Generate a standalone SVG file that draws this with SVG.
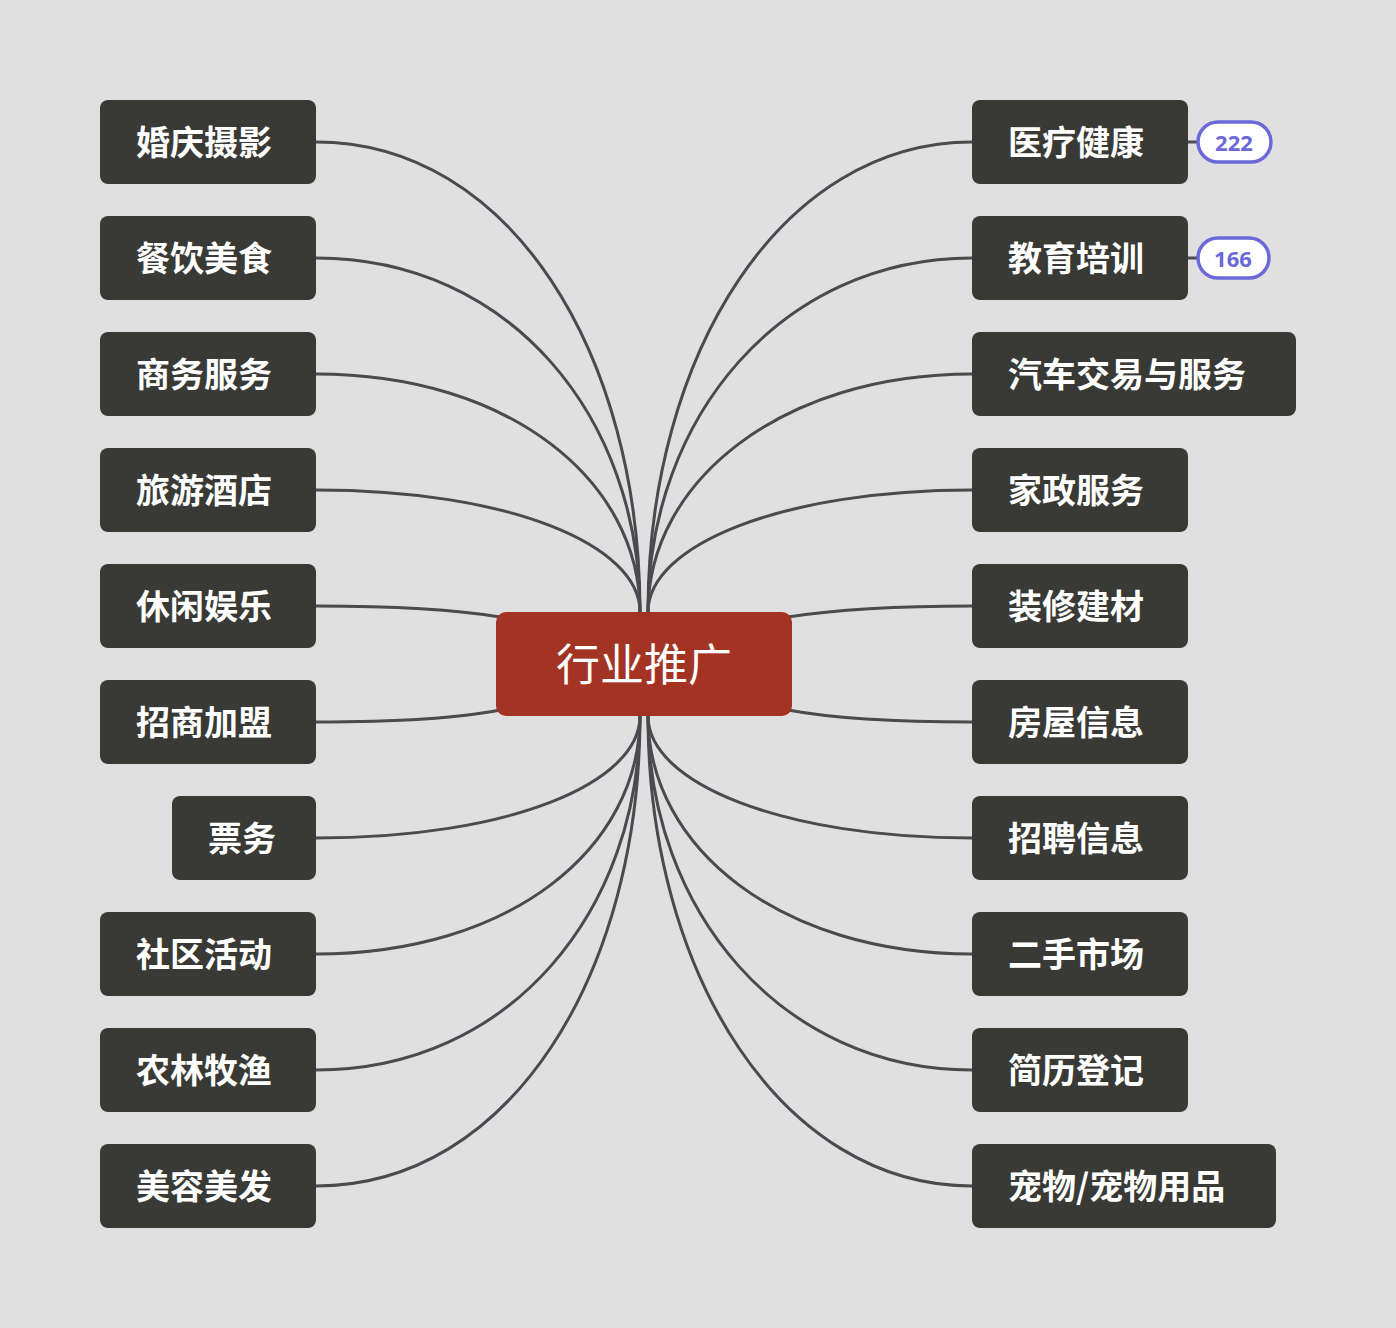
<svg xmlns="http://www.w3.org/2000/svg" width="1396" height="1328" viewBox="0 0 1396 1328">
<style>
.n{fill:#393a35}
.t{fill:#fff;font-family:"Noto Sans CJK SC","Liberation Sans",sans-serif;font-weight:bold;font-size:34px;dominant-baseline:central}
.c{fill:none;stroke:#4a4a4f;stroke-width:3}
.b{fill:#fff;stroke:#6b68d8;stroke-width:3.5}
.bt{fill:#6b68d8;font-family:"Noto Sans","Liberation Sans",sans-serif;font-weight:bold;font-size:22px;text-anchor:middle;dominant-baseline:central}
</style>
<rect width="1396" height="1328" fill="#e0e0e0"/>
<g id="connectors">
<path class="c" d="M316,142 C510,142 640,353 640,612"/>
<path class="c" d="M316,258 C510,258 640,417 640,612"/>
<path class="c" d="M316,374 C510,374 640,481 640,612"/>
<path class="c" d="M316,490 C510,490 640,545 640,612"/>
<path class="c" d="M316,606 C420,606 470,612 500,617"/>
<path class="c" d="M316,722 C420,722 470,716 500,710"/>
<path class="c" d="M316,838 C510,838 640,783 640,716"/>
<path class="c" d="M316,954 C510,954 640,849 640,716"/>
<path class="c" d="M316,1070 C510,1070 640,911 640,716"/>
<path class="c" d="M316,1186 C510,1186 640,974 640,716"/>
<path class="c" d="M972,142 C782,142 648,353 648,612"/>
<path class="c" d="M972,258 C782,258 648,417 648,612"/>
<path class="c" d="M972,374 C782,374 648,481 648,612"/>
<path class="c" d="M972,490 C782,490 648,545 648,612"/>
<path class="c" d="M972,606 C870,606 820,612 788,617"/>
<path class="c" d="M972,722 C870,722 820,716 788,710"/>
<path class="c" d="M972,838 C782,838 648,783 648,716"/>
<path class="c" d="M972,954 C782,954 648,849 648,716"/>
<path class="c" d="M972,1070 C782,1070 648,911 648,716"/>
<path class="c" d="M972,1186 C782,1186 648,974 648,716"/>
<path class="c" d="M1188,142 H1198 M1188,258 H1198"/>
</g>
<g id="center"><rect x="496" y="612" width="296" height="104" rx="10" fill="#a33424"/><text x="644" y="662" fill="#fff" font-family="Noto Sans CJK SC,sans-serif" font-size="44" text-anchor="middle" dominant-baseline="central">行业推广</text></g>
<g id="l1"><rect class="n" x="100" y="100" width="216" height="84" rx="8"/><text class="t" x="136" y="140">婚庆摄影</text></g>
<g id="l2"><rect class="n" x="100" y="216" width="216" height="84" rx="8"/><text class="t" x="136" y="256">餐饮美食</text></g>
<g id="l3"><rect class="n" x="100" y="332" width="216" height="84" rx="8"/><text class="t" x="136" y="372">商务服务</text></g>
<g id="l4"><rect class="n" x="100" y="448" width="216" height="84" rx="8"/><text class="t" x="136" y="488">旅游酒店</text></g>
<g id="l5"><rect class="n" x="100" y="564" width="216" height="84" rx="8"/><text class="t" x="136" y="604">休闲娱乐</text></g>
<g id="l6"><rect class="n" x="100" y="680" width="216" height="84" rx="8"/><text class="t" x="136" y="720">招商加盟</text></g>
<g id="l7"><rect class="n" x="172" y="796" width="144" height="84" rx="8"/><text class="t" x="208" y="836">票务</text></g>
<g id="l8"><rect class="n" x="100" y="912" width="216" height="84" rx="8"/><text class="t" x="136" y="952">社区活动</text></g>
<g id="l9"><rect class="n" x="100" y="1028" width="216" height="84" rx="8"/><text class="t" x="136" y="1068">农林牧渔</text></g>
<g id="l10"><rect class="n" x="100" y="1144" width="216" height="84" rx="8"/><text class="t" x="136" y="1184">美容美发</text></g>
<g id="r1"><rect class="n" x="972" y="100" width="216" height="84" rx="8"/><text class="t" x="1008" y="140">医疗健康</text></g>
<g id="r2"><rect class="n" x="972" y="216" width="216" height="84" rx="8"/><text class="t" x="1008" y="256">教育培训</text></g>
<g id="r3"><rect class="n" x="972" y="332" width="324" height="84" rx="8"/><text class="t" x="1008" y="372">汽车交易与服务</text></g>
<g id="r4"><rect class="n" x="972" y="448" width="216" height="84" rx="8"/><text class="t" x="1008" y="488">家政服务</text></g>
<g id="r5"><rect class="n" x="972" y="564" width="216" height="84" rx="8"/><text class="t" x="1008" y="604">装修建材</text></g>
<g id="r6"><rect class="n" x="972" y="680" width="216" height="84" rx="8"/><text class="t" x="1008" y="720">房屋信息</text></g>
<g id="r7"><rect class="n" x="972" y="796" width="216" height="84" rx="8"/><text class="t" x="1008" y="836">招聘信息</text></g>
<g id="r8"><rect class="n" x="972" y="912" width="216" height="84" rx="8"/><text class="t" x="1008" y="952">二手市场</text></g>
<g id="r9"><rect class="n" x="972" y="1028" width="216" height="84" rx="8"/><text class="t" x="1008" y="1068">简历登记</text></g>
<g id="r10"><rect class="n" x="972" y="1144" width="304" height="84" rx="8"/><text class="t" x="1008" y="1184">宠物/宠物用品</text></g>
<g id="badge1"><rect class="b" x="1198" y="122" width="73" height="40" rx="20"/><text class="bt" x="1234" y="142">222</text></g>
<g id="badge2"><rect class="b" x="1198" y="238" width="71" height="40" rx="20"/><text class="bt" x="1233" y="258">166</text></g>
</svg>
